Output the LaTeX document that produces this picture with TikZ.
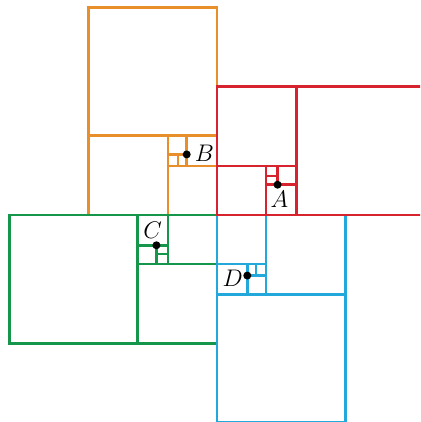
\documentclass[tikz,border=0pt]{standalone}
\definecolor{orangeC}{RGB}{232,142,42}
\definecolor{redC}{RGB}{214,35,45}
\definecolor{greenC}{RGB}{22,150,75}
\definecolor{blueC}{RGB}{35,168,220}
\tikzset{
  frame/.style={line width=1.25pt},
  dot/.style={circle, fill=black, inner sep=0pt, minimum size=4pt},
  lbl/.style={inner sep=0pt, font=\fontsize{11.5}{13}\selectfont}
}
% golden-rectangle subdivision, drawn in the orientation of the orange one
\newcommand{\gspiral}[2]{%
  \draw[frame,#1] (-128.3,0) rectangle (0,207.6);
  \draw[frame,#1] (-128.3,79.29) -- (0,79.29);
  \draw[frame,#1] (-49.0,0) -- (-49.0,79.29);
  \draw[frame,#1] (-49.0,49.0) -- (0,49.0);
  \draw[frame,#1] (-30.29,49.0) -- (-30.29,79.29);
  \draw[frame,#1] (-49.0,60.57) -- (-30.29,60.57);
  \draw[frame,#1] (-38.8,49.0) -- (-38.8,60.57);
  \coordinate (#2) at (-30.29,60.57);
}
\begin{document}
\begin{tikzpicture}[x=0.5pt,y=0.5pt]
  \useasboundingbox (-217,-207) rectangle (203,215);
  \clip (-217,-207) rectangle (203,215);
  \begin{scope}\gspiral{orangeC}{pB}\end{scope}
  \begin{scope}[rotate=90]\gspiral{greenC}{pC}\end{scope}
  \begin{scope}[rotate=180]\gspiral{blueC}{pD}\end{scope}
  \begin{scope}[rotate=-90]\gspiral{redC}{pA}\end{scope}
  \node[dot] (dotA) at (pA) {};
  \node[dot] (dotB) at (pB) {};
  \node[dot] (dotC) at (pC) {};
  \node[dot] (dotD) at (pD) {};
  \node[lbl] (labA) at ([shift={(1.8,-15)}]pA) {$A$};
  \node[lbl] (labB) at ([shift={(17.8,0.7)}]pB) {$B$};
  \node[lbl] (labC) at ([shift={(-3.8,14.5)}]pC) {$C$};
  \node[lbl] (labD) at ([shift={(-14.5,-3)}]pD) {$D$};
\end{tikzpicture}
\end{document}
